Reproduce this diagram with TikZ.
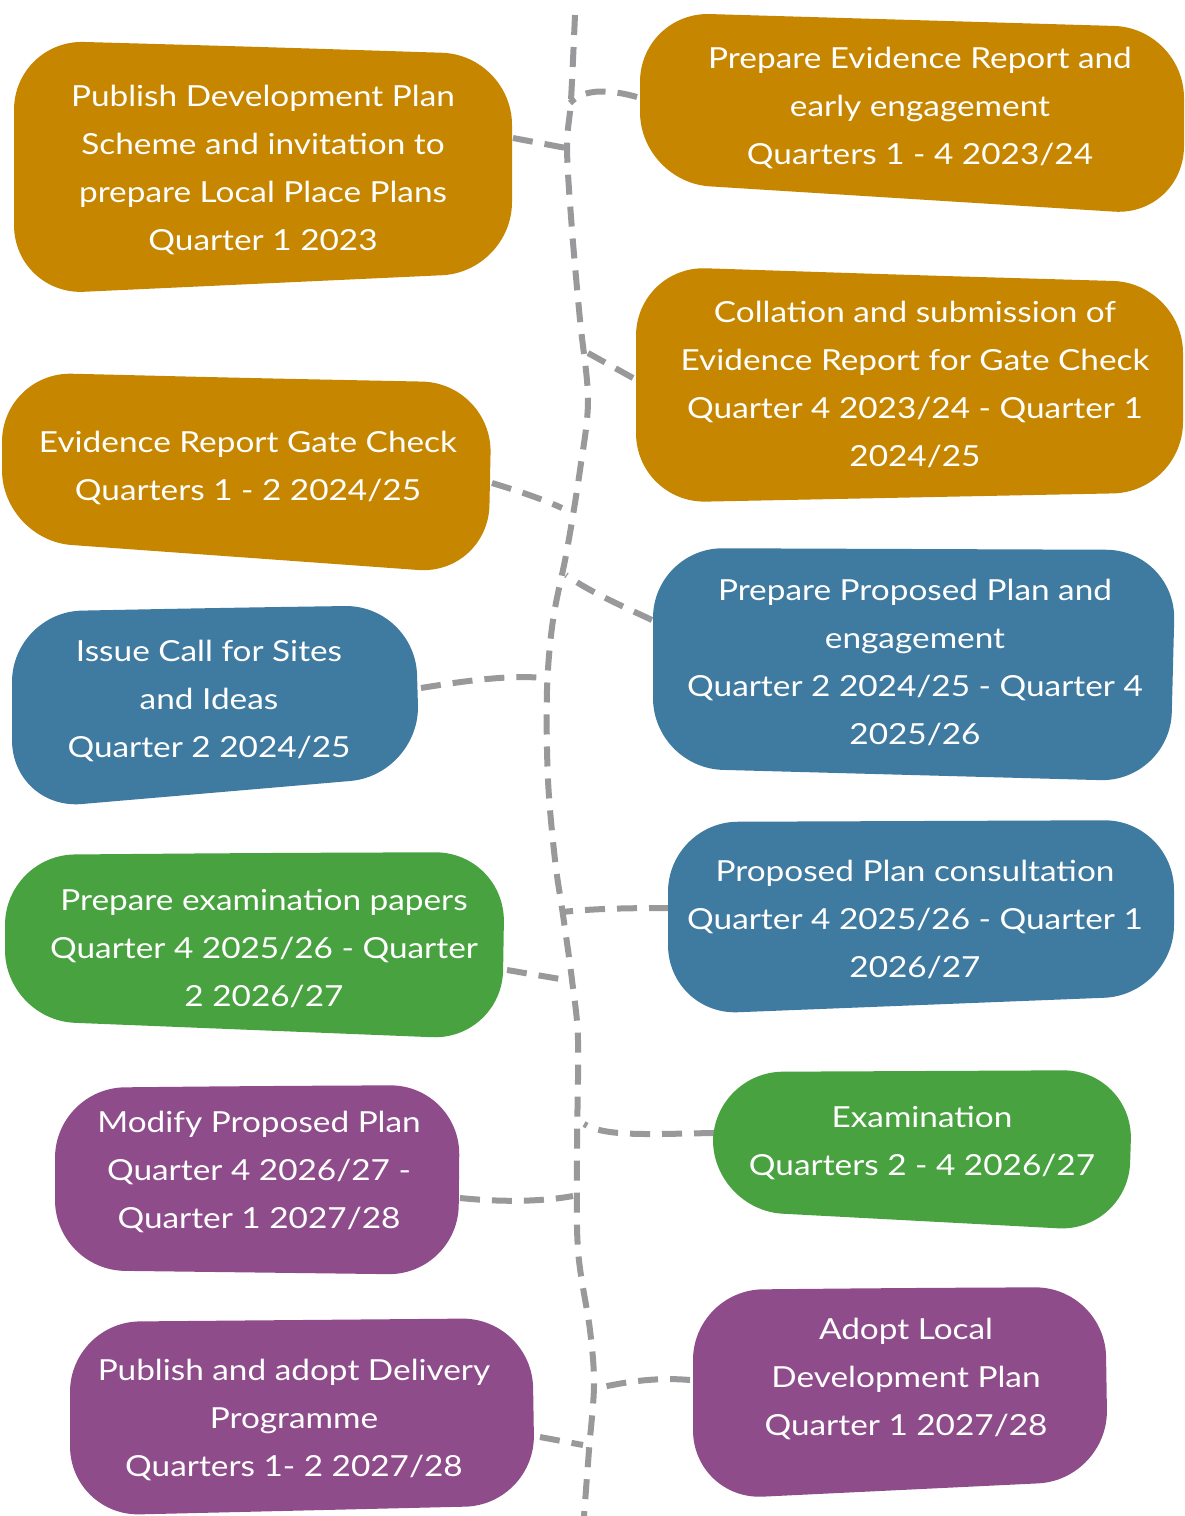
\documentclass[tikz,border=0pt]{standalone}
\usepackage{fontspec}
\setmainfont{Lato}[FakeStretch=1.15]
\definecolor{ochre}{RGB}{198,134,0}
\definecolor{steel}{RGB}{63,122,160}
\definecolor{leaf}{RGB}{72,162,64}
\definecolor{plum}{RGB}{142,76,139}
\definecolor{linegray}{RGB}{153,153,155}
\begin{document}
\begin{tikzpicture}[x=1pt,y=-1pt,
  blob/.style={rounded corners=70pt},
  blobtxt/.style={text=white, align=center, inner sep=0pt, font=\fontsize{29}{48}\selectfont},
  dashline/.style={draw=linegray, line width=6pt, dash pattern=on 20pt off 12pt},
]
\useasboundingbox (0,0) rectangle (1184,1516);
\fill[white] (0,0) rectangle (1184,1516);

% spine
\draw[dashline] plot[smooth, tension=0.55] coordinates {(575,15) (571,100) (567,148) (572,230) (580,320) (588,400) (580,470) (567,550) (553,620) (547,690) (548,780) (555,860) (563,915) (572,980) (578,1040) (577,1150) (578,1250) (590,1330) (594,1385) (589,1450) (584,1516)};

% connector coordinates
\coordinate (b1e) at (513,138);  \coordinate (s1) at (566,148);
\coordinate (b2e) at (637,97);   \coordinate (s2) at (570,103);
\coordinate (b3e) at (633,378);  \coordinate (s3) at (588,353);
\coordinate (b4e) at (492,483);  \coordinate (s4) at (562,508);
\coordinate (b5e) at (652,620);  \coordinate (s5) at (566,575);
\coordinate (b6e) at (421,688);  \coordinate (s6) at (545,678);
\coordinate (b7e) at (507,970);  \coordinate (s7) at (572,981);
\coordinate (b8e) at (669,908);  \coordinate (s8) at (562,912);
\coordinate (b9e) at (714,1133); \coordinate (s9) at (584,1124);
\coordinate (b10e) at (460,1198); \coordinate (s10) at (573,1196);
\coordinate (b11e) at (690,1380); \coordinate (s11) at (598,1388);
\coordinate (b12e) at (540,1437); \coordinate (s12) at (583,1445);

\draw[dashline] (b1e) -- (s1);
\draw[dashline] (b2e) .. controls (605,88) and (582,90) .. (s2);
\draw[dashline] (b3e) -- (s3);
\draw[dashline] (b4e) .. controls (515,490) and (540,498) .. (s4);
\draw[dashline] (b5e) .. controls (620,605) and (590,592) .. (s5);
\draw[dashline] (b6e) .. controls (470,680) and (510,675) .. (s6);
\draw[dashline] (b7e) -- (s7);
\draw[dashline] (b8e) .. controls (620,908) and (590,909) .. (s8);
\draw[dashline] (b9e) .. controls (650,1134) and (605,1137) .. (s9);
\draw[dashline] (b10e) .. controls (500,1202) and (540,1202) .. (s10);
\draw[dashline] (b11e) .. controls (655,1377) and (625,1382) .. (s11);
\draw[dashline] (b12e) -- (s12);

% blobs
\fill[ochre, blob] (263,47) -- (512,55) -- (512,272) -- (14,295) -- (14,40) -- cycle;
\fill[ochre, blob] (912,20) -- (1184,28) -- (1184,216) -- (640,182) -- (640,12) -- cycle;
\fill[ochre, blob] (910,275) -- (1183,283) -- (1183,492) -- (636,503) -- (636,266) -- cycle;
\fill[ochre, blob] (247,378) -- (492,383) -- (488,575) -- (2,540) -- (2,372) -- cycle;
\fill[steel, blob] (914,549) -- (1176,550) -- (1170,782) -- (653,768) -- (653,548) -- cycle;
\fill[steel, blob] (213,608) -- (415,605) -- (420,775) -- (12,810) -- (12,612) -- cycle;
\fill[leaf, blob] (255,853) -- (505,852) -- (502,1040) -- (5,1020) -- (5,855) -- cycle;
\fill[steel, blob] (921,821) -- (1174,820) -- (1174,995) -- (668,1015) -- (668,822) -- cycle;
\fill[leaf, blob] (923,1071) -- (1133,1070) -- (1128,1232) -- (713,1210) -- (713,1072) -- cycle;
\fill[plum, blob] (257,1086) -- (460,1085) -- (458,1275) -- (55,1270) -- (55,1088) -- cycle;
\fill[plum, blob] (899,1288) -- (1105,1287) -- (1108,1480) -- (693,1500) -- (693,1290) -- cycle;
\fill[plum, blob] (301,1320) -- (532,1318) -- (535,1505) -- (70,1516) -- (70,1322) -- cycle;

% texts
\node[blobtxt] (t1) at (263,170) {Publish Development Plan\\Scheme and invitation to\\prepare Local Place Plans\\Quarter 1 2023};
\node[blobtxt] (t2) at (920,108) {Prepare Evidence Report and\\early engagement\\Quarters 1 - 4 2023/24};
\node[blobtxt] (t3) at (915,384) {Collation and submission of\\Evidence Report for Gate Check\\Quarter 4 2023/24 - Quarter 1\\2024/25};
\node[blobtxt] (t4) at (248,468) {Evidence Report Gate Check\\Quarters 1 - 2 2024/25};
\node[blobtxt] (t5) at (915,662) {Prepare Proposed Plan and\\engagement\\Quarter 2 2024/25 - Quarter 4\\2025/26};
\node[blobtxt] (t6) at (209,701) {Issue Call for Sites\\and Ideas\\Quarter 2 2024/25};
\node[blobtxt] (t7) at (264,949) {Prepare examination papers\\Quarter 4 2025/26 - Quarter\\2 2026/27};
\node[blobtxt] (t8) at (915,919) {Proposed Plan consultation\\Quarter 4 2025/26 - Quarter 1\\2026/27};
\node[blobtxt] (t9) at (922,1143) {Examination\\Quarters 2 - 4 2026/27};
\node[blobtxt] (t10) at (259,1172) {Modify Proposed Plan\\Quarter 4 2026/27 -\\Quarter 1 2027/28};
\node[blobtxt] (t11) at (906,1379) {Adopt Local\\Development Plan\\Quarter 1 2027/28};
\node[blobtxt] (t12) at (294,1420) {Publish and adopt Delivery\\Programme\\Quarters 1- 2 2027/28};
\end{tikzpicture}
\end{document}
